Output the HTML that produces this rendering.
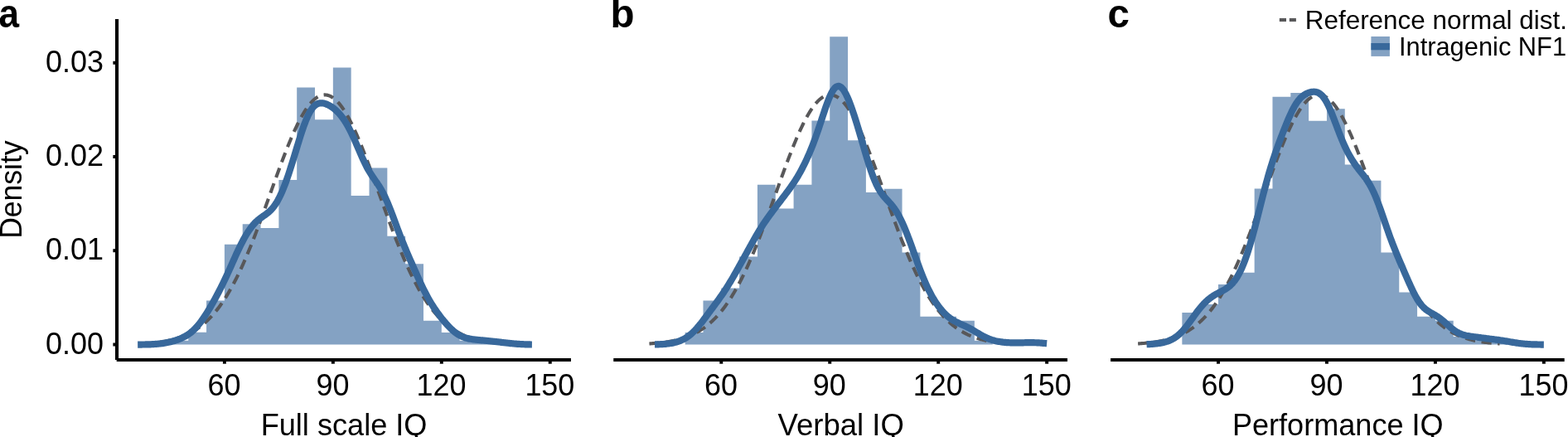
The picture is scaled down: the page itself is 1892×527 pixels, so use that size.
<!DOCTYPE html>
<html><head><meta charset="utf-8"><title>IQ distributions</title>
<style>html,body{margin:0;padding:0;background:#fff;overflow:hidden}svg{display:block}text{font-family:"Liberation Sans",sans-serif;fill:#000}</style></head><body>
<svg width="1892" height="527" viewBox="0 0 1892 527">
<rect width="1892" height="527" fill="#fff"/>
<g id="panel-a">
<path d="M205.42,415.60 L205.42,410.80 L227.25,410.80 L227.25,400.80 L249.07,400.80 L249.07,362.40 L270.90,362.40 L270.90,294.80 L292.72,294.80 L292.72,270.20 L314.55,270.20 L314.55,275.00 L336.38,275.00 L336.38,217.10 L358.20,217.10 L358.20,105.40 L380.02,105.40 L380.02,144.20 L401.85,144.20 L401.85,81.50 L423.67,81.50 L423.67,236.10 L445.50,236.10 L445.50,202.60 L467.32,202.60 L467.32,284.80 L489.15,284.80 L489.15,318.30 L510.98,318.30 L510.98,386.70 L532.80,386.70 L532.80,400.90 L554.62,400.90 L554.62,410.70 L576.45,410.70 L576.45,410.70 L598.27,410.70 L598.27,415.60 Z" fill="#84a2c3"/>
<path d="M173.56,414.44 L175.02,414.35 L176.48,414.25 L177.94,414.15 L179.40,414.04 L180.86,413.92 L182.32,413.80 L183.78,413.66 L185.24,413.52 L186.70,413.37 L188.16,413.21 L189.62,413.04 L191.08,412.86 L192.54,412.67 L194.00,412.46 L195.46,412.24 L196.92,412.01 L198.38,411.77 L199.84,411.51 L201.30,411.23 L202.76,410.94 L204.22,410.63 L205.68,410.30 L207.14,409.96 L208.60,409.59 L210.06,409.21 L211.52,408.80 L212.98,408.37 L214.44,407.92 L215.90,407.45 L217.36,406.94 L218.82,406.42 L220.28,405.86 L221.74,405.28 L223.20,404.67 L224.66,404.02 L226.12,403.35 L227.58,402.64 L229.04,401.90 L230.50,401.12 L231.96,400.31 L233.42,399.46 L234.87,398.57 L236.33,397.63 L237.79,396.66 L239.25,395.65 L240.71,394.59 L242.17,393.48 L243.63,392.33 L245.09,391.14 L246.55,389.89 L248.01,388.59 L249.47,387.24 L250.93,385.84 L252.39,384.39 L253.85,382.88 L255.31,381.31 L256.77,379.69 L258.23,378.01 L259.69,376.27 L261.15,374.47 L262.61,372.61 L264.07,370.69 L265.53,368.70 L266.99,366.66 L268.45,364.54 L269.91,362.37 L271.37,360.12 L272.83,357.82 L274.29,355.44 L275.75,353.00 L277.21,350.49 L278.67,347.92 L280.13,345.28 L281.59,342.57 L283.05,339.79 L284.51,336.95 L285.97,334.05 L287.43,331.08 L288.89,328.04 L290.35,324.94 L291.81,321.77 L293.27,318.55 L294.73,315.26 L296.19,311.91 L297.65,308.51 L299.11,305.05 L300.57,301.53 L302.03,297.96 L303.49,294.34 L304.95,290.67 L306.41,286.95 L307.87,283.18 L309.33,279.38 L310.79,275.53 L312.25,271.65 L313.71,267.73 L315.17,263.78 L316.63,259.81 L318.09,255.81 L319.55,251.79 L321.01,247.75 L322.47,243.69 L323.93,239.63 L325.39,235.56 L326.85,231.49 L328.31,227.41 L329.77,223.35 L331.23,219.29 L332.69,215.25 L334.15,211.23 L335.61,207.22 L337.07,203.25 L338.53,199.31 L339.99,195.40 L341.45,191.54 L342.90,187.72 L344.36,183.95 L345.82,180.23 L347.28,176.58 L348.74,172.99 L350.20,169.47 L351.66,166.01 L353.12,162.64 L354.58,159.35 L356.04,156.15 L357.50,153.03 L358.96,150.01 L360.42,147.09 L361.88,144.27 L363.34,141.56 L364.80,138.96 L366.26,136.48 L367.72,134.11 L369.18,131.86 L370.64,129.74 L372.10,127.74 L373.56,125.87 L375.02,124.14 L376.48,122.54 L377.94,121.08 L379.40,119.76 L380.86,118.58 L382.32,117.55 L383.78,116.65 L385.24,115.91 L386.70,115.31 L388.16,114.87 L389.62,114.57 L391.08,114.42 L392.54,114.42 L394.00,114.57 L395.46,114.87 L396.92,115.31 L398.38,115.91 L399.84,116.65 L401.30,117.55 L402.76,118.58 L404.22,119.76 L405.68,121.08 L407.14,122.54 L408.60,124.14 L410.06,125.87 L411.52,127.74 L412.98,129.74 L414.44,131.86 L415.90,134.11 L417.36,136.48 L418.82,138.96 L420.28,141.56 L421.74,144.27 L423.20,147.09 L424.66,150.01 L426.12,153.03 L427.58,156.15 L429.04,159.35 L430.50,162.64 L431.96,166.01 L433.42,169.47 L434.88,172.99 L436.34,176.58 L437.80,180.23 L439.26,183.95 L440.72,187.72 L442.18,191.54 L443.64,195.40 L445.10,199.31 L446.56,203.25 L448.02,207.22 L449.48,211.23 L450.94,215.25 L452.39,219.29 L453.85,223.35 L455.31,227.41 L456.77,231.49 L458.23,235.56 L459.69,239.63 L461.15,243.69 L462.61,247.75 L464.07,251.79 L465.53,255.81 L466.99,259.81 L468.45,263.78 L469.91,267.73 L471.37,271.65 L472.83,275.53 L474.29,279.38 L475.75,283.18 L477.21,286.95 L478.67,290.67 L480.13,294.34 L481.59,297.96 L483.05,301.53 L484.51,305.05 L485.97,308.51 L487.43,311.91 L488.89,315.26 L490.35,318.55 L491.81,321.77 L493.27,324.94 L494.73,328.04 L496.19,331.08 L497.65,334.05 L499.11,336.95 L500.57,339.79 L502.03,342.57 L503.49,345.28 L504.95,347.92 L506.41,350.49 L507.87,353.00 L509.33,355.44 L510.79,357.82 L512.25,360.12 L513.71,362.37 L515.17,364.54 L516.63,366.66 L518.09,368.70 L519.55,370.69 L521.01,372.61 L522.47,374.47 L523.93,376.27 L525.39,378.01 L526.85,379.69 L528.31,381.31 L529.77,382.88 L531.23,384.39 L532.69,385.84 L534.15,387.24 L535.61,388.59 L537.07,389.89 L538.53,391.14 L539.99,392.33 L541.45,393.48 L542.91,394.59 L544.37,395.65 L545.83,396.66 L547.29,397.63 L548.75,398.57 L550.21,399.46 L551.67,400.31 L553.13,401.12 L554.59,401.90 L556.05,402.64 L557.51,403.35 L558.97,404.02 L560.43,404.67 L561.88,405.28 L563.34,405.86 L564.80,406.42 L566.26,406.94 L567.72,407.45 L569.18,407.92 L570.64,408.37 L572.10,408.80 L573.56,409.21 L575.02,409.59 L576.48,409.96 L577.94,410.30 L579.40,410.63 L580.86,410.94 L582.32,411.23 L583.78,411.51 L585.24,411.77 L586.70,412.01 L588.16,412.24 L589.62,412.46 L591.08,412.67 L592.54,412.86 L594.00,413.04 L595.46,413.21 L596.92,413.37 L598.38,413.52 L599.84,413.66 L601.30,413.80 L602.76,413.92 L604.22,414.04 L605.68,414.15 L607.14,414.25 L608.60,414.35 L610.06,414.44" fill="none" stroke="#58585a" stroke-width="4.10" stroke-dasharray="12.2,7.54" stroke-linejoin="round"/>
<path d="M166.14,415.57 L167.33,415.56 L168.52,415.56 L169.72,415.55 L170.91,415.53 L172.10,415.52 L173.29,415.50 L174.49,415.48 L175.68,415.46 L176.87,415.44 L178.06,415.41 L179.26,415.37 L180.45,415.33 L181.64,415.29 L182.83,415.23 L184.03,415.18 L185.22,415.11 L186.41,415.03 L187.60,414.95 L188.80,414.86 L189.99,414.76 L191.18,414.64 L192.37,414.52 L193.57,414.38 L194.76,414.23 L195.95,414.07 L197.14,413.89 L198.34,413.70 L199.53,413.50 L200.72,413.28 L201.91,413.05 L203.11,412.80 L204.30,412.53 L205.49,412.25 L206.68,411.96 L207.88,411.64 L209.07,411.31 L210.26,410.96 L211.45,410.60 L212.65,410.21 L213.84,409.80 L215.03,409.37 L216.22,408.92 L217.42,408.44 L218.61,407.93 L219.80,407.39 L220.99,406.83 L222.18,406.22 L223.38,405.58 L224.57,404.90 L225.76,404.17 L226.95,403.39 L228.15,402.57 L229.34,401.69 L230.53,400.75 L231.72,399.76 L232.92,398.70 L234.11,397.58 L235.30,396.40 L236.49,395.15 L237.69,393.83 L238.88,392.45 L240.07,391.00 L241.26,389.49 L242.46,387.91 L243.65,386.28 L244.84,384.59 L246.03,382.84 L247.23,381.04 L248.42,379.20 L249.61,377.31 L250.80,375.38 L252.00,373.41 L253.19,371.41 L254.38,369.37 L255.57,367.30 L256.77,365.20 L257.96,363.07 L259.15,360.92 L260.34,358.73 L261.54,356.52 L262.73,354.27 L263.92,351.99 L265.11,349.68 L266.31,347.33 L267.50,344.95 L268.69,342.53 L269.88,340.08 L271.08,337.59 L272.27,335.06 L273.46,332.50 L274.65,329.91 L275.84,327.29 L277.04,324.65 L278.23,322.00 L279.42,319.33 L280.61,316.66 L281.81,313.99 L283.00,311.32 L284.19,308.68 L285.38,306.06 L286.58,303.48 L287.77,300.93 L288.96,298.43 L290.15,295.98 L291.35,293.60 L292.54,291.27 L293.73,289.02 L294.92,286.85 L296.12,284.75 L297.31,282.73 L298.50,280.80 L299.69,278.95 L300.89,277.19 L302.08,275.52 L303.27,273.93 L304.46,272.43 L305.66,271.02 L306.85,269.70 L308.04,268.45 L309.23,267.28 L310.43,266.19 L311.62,265.16 L312.81,264.19 L314.00,263.27 L315.20,262.39 L316.39,261.54 L317.58,260.70 L318.77,259.87 L319.97,259.03 L321.16,258.17 L322.35,257.27 L323.54,256.32 L324.73,255.30 L325.93,254.20 L327.12,253.00 L328.31,251.70 L329.50,250.28 L330.70,248.74 L331.89,247.07 L333.08,245.26 L334.27,243.30 L335.47,241.20 L336.66,238.95 L337.85,236.55 L339.04,234.01 L340.24,231.33 L341.43,228.50 L342.62,225.55 L343.81,222.46 L345.01,219.25 L346.20,215.93 L347.39,212.49 L348.58,208.96 L349.78,205.33 L350.97,201.62 L352.16,197.83 L353.35,193.99 L354.55,190.10 L355.74,186.17 L356.93,182.22 L358.12,178.28 L359.32,174.35 L360.51,170.46 L361.70,166.62 L362.89,162.85 L364.09,159.19 L365.28,155.64 L366.47,152.22 L367.66,148.97 L368.86,145.88 L370.05,142.98 L371.24,140.29 L372.43,137.80 L373.63,135.53 L374.82,133.49 L376.01,131.67 L377.20,130.07 L378.39,128.68 L379.59,127.51 L380.78,126.54 L381.97,125.76 L383.16,125.16 L384.36,124.72 L385.55,124.44 L386.74,124.29 L387.93,124.27 L389.13,124.35 L390.32,124.54 L391.51,124.81 L392.70,125.17 L393.90,125.60 L395.09,126.10 L396.28,126.67 L397.47,127.29 L398.67,127.98 L399.86,128.73 L401.05,129.54 L402.24,130.41 L403.44,131.35 L404.63,132.35 L405.82,133.43 L407.01,134.58 L408.21,135.80 L409.40,137.10 L410.59,138.49 L411.78,139.95 L412.98,141.51 L414.17,143.16 L415.36,144.89 L416.55,146.73 L417.75,148.65 L418.94,150.68 L420.13,152.80 L421.32,155.01 L422.52,157.32 L423.71,159.72 L424.90,162.20 L426.09,164.76 L427.29,167.39 L428.48,170.07 L429.67,172.80 L430.86,175.57 L432.05,178.35 L433.25,181.14 L434.44,183.91 L435.63,186.65 L436.82,189.35 L438.02,191.99 L439.21,194.56 L440.40,197.04 L441.59,199.43 L442.79,201.73 L443.98,203.92 L445.17,206.02 L446.36,208.02 L447.56,209.94 L448.75,211.78 L449.94,213.56 L451.13,215.30 L452.33,217.01 L453.52,218.72 L454.71,220.44 L455.90,222.19 L457.10,224.00 L458.29,225.89 L459.48,227.86 L460.67,229.93 L461.87,232.12 L463.06,234.42 L464.25,236.85 L465.44,239.40 L466.64,242.07 L467.83,244.85 L469.02,247.74 L470.21,250.71 L471.41,253.77 L472.60,256.89 L473.79,260.06 L474.98,263.26 L476.18,266.48 L477.37,269.70 L478.56,272.91 L479.75,276.10 L480.95,279.25 L482.14,282.37 L483.33,285.45 L484.52,288.48 L485.71,291.47 L486.91,294.41 L488.10,297.30 L489.29,300.16 L490.48,302.98 L491.68,305.78 L492.87,308.55 L494.06,311.30 L495.25,314.03 L496.45,316.75 L497.64,319.46 L498.83,322.16 L500.02,324.85 L501.22,327.54 L502.41,330.21 L503.60,332.86 L504.79,335.49 L505.99,338.10 L507.18,340.68 L508.37,343.22 L509.56,345.73 L510.76,348.18 L511.95,350.59 L513.14,352.94 L514.33,355.23 L515.53,357.46 L516.72,359.63 L517.91,361.74 L519.10,363.78 L520.30,365.77 L521.49,367.70 L522.68,369.57 L523.87,371.39 L525.07,373.16 L526.26,374.89 L527.45,376.57 L528.64,378.21 L529.84,379.82 L531.03,381.39 L532.22,382.92 L533.41,384.43 L534.61,385.90 L535.80,387.35 L536.99,388.76 L538.18,390.13 L539.37,391.47 L540.57,392.77 L541.76,394.03 L542.95,395.25 L544.14,396.42 L545.34,397.54 L546.53,398.62 L547.72,399.63 L548.91,400.60 L550.11,401.50 L551.30,402.35 L552.49,403.14 L553.68,403.87 L554.88,404.54 L556.07,405.16 L557.26,405.72 L558.45,406.24 L559.65,406.70 L560.84,407.11 L562.03,407.49 L563.22,407.82 L564.42,408.12 L565.61,408.38 L566.80,408.62 L567.99,408.83 L569.19,409.02 L570.38,409.19 L571.57,409.35 L572.76,409.49 L573.96,409.62 L575.15,409.75 L576.34,409.87 L577.53,409.98 L578.73,410.10 L579.92,410.21 L581.11,410.32 L582.30,410.43 L583.50,410.54 L584.69,410.65 L585.88,410.77 L587.07,410.88 L588.27,411.00 L589.46,411.12 L590.65,411.24 L591.84,411.36 L593.03,411.48 L594.23,411.61 L595.42,411.74 L596.61,411.87 L597.80,412.00 L599.00,412.13 L600.19,412.27 L601.38,412.40 L602.57,412.54 L603.77,412.68 L604.96,412.82 L606.15,412.96 L607.34,413.10 L608.54,413.24 L609.73,413.38 L610.92,413.52 L612.11,413.66 L613.31,413.79 L614.50,413.92 L615.69,414.05 L616.88,414.17 L618.08,414.29 L619.27,414.40 L620.46,414.51 L621.65,414.61 L622.85,414.70 L624.04,414.79 L625.23,414.88 L626.42,414.96 L627.62,415.03 L628.81,415.10 L630.00,415.16 L631.19,415.21 L632.39,415.26 L633.58,415.31 L634.77,415.35 L635.96,415.38 L637.16,415.41 L638.35,415.44 L639.54,415.46 L640.73,415.49 L641.92,415.50" fill="none" stroke="#38689b" stroke-width="8.20" stroke-linejoin="round"/>
<path d="M141.05,22.9 L141.05,433.9" fill="none" stroke="#000" stroke-width="4.1"/>
<path d="M140.7,434.03 L688.95,434.03" fill="none" stroke="#000" stroke-width="4.1"/>
<rect x="136.4" y="413.50" width="3.0" height="4.0" fill="#000"/>
<text transform="translate(125.00,426.60) scale(0.9770,1)" font-size="36.80" text-anchor="end">0.00</text>
<rect x="136.4" y="300.25" width="3.0" height="4.0" fill="#000"/>
<text transform="translate(125.00,313.35) scale(0.9770,1)" font-size="36.80" text-anchor="end">0.01</text>
<rect x="136.4" y="187.00" width="3.0" height="4.0" fill="#000"/>
<text transform="translate(125.00,200.10) scale(0.9770,1)" font-size="36.80" text-anchor="end">0.02</text>
<rect x="136.4" y="73.75" width="3.0" height="4.0" fill="#000"/>
<text transform="translate(125.00,86.85) scale(0.9770,1)" font-size="36.80" text-anchor="end">0.03</text>
<rect x="268.90" y="435" width="4.0" height="3.7" fill="#000"/>
<text transform="translate(270.50,477.30) scale(0.9770,1)" font-size="36.80" text-anchor="middle">60</text>
<rect x="399.85" y="435" width="4.0" height="3.7" fill="#000"/>
<text transform="translate(401.45,477.30) scale(0.9770,1)" font-size="36.80" text-anchor="middle">90</text>
<rect x="530.80" y="435" width="4.0" height="3.7" fill="#000"/>
<text transform="translate(532.40,477.30) scale(0.9770,1)" font-size="36.80" text-anchor="middle">120</text>
<rect x="661.75" y="435" width="4.0" height="3.7" fill="#000"/>
<text transform="translate(663.35,477.30) scale(0.9770,1)" font-size="36.80" text-anchor="middle">150</text>
<text transform="translate(415.07,524.80) scale(0.9820,1)" font-size="36.80" text-anchor="middle">Full scale IQ</text>
<text transform="translate(-1.60,33.00) scale(0.9300,1)" font-size="47.50" text-anchor="start" font-weight="bold">a</text>
</g>
<g id="panel-b">
<path d="M826.65,415.60 L826.65,401.00 L848.47,401.00 L848.47,362.60 L870.30,362.60 L870.30,347.60 L892.12,347.60 L892.12,309.50 L913.95,309.50 L913.95,222.70 L935.77,222.70 L935.77,251.50 L957.60,251.50 L957.60,222.70 L979.42,222.70 L979.42,145.50 L1001.25,145.50 L1001.25,44.30 L1023.07,44.30 L1023.07,169.30 L1044.90,169.30 L1044.90,232.00 L1066.72,232.00 L1066.72,227.70 L1088.55,227.70 L1088.55,304.50 L1110.38,304.50 L1110.38,381.70 L1132.20,381.70 L1132.20,381.70 L1154.03,381.70 L1154.03,386.70 L1175.85,386.70 L1175.85,410.70 L1197.67,410.70 L1197.67,415.60 Z" fill="#84a2c3"/>
<path d="M783.44,414.44 L784.90,414.35 L786.36,414.25 L787.82,414.15 L789.28,414.04 L790.74,413.92 L792.20,413.80 L793.66,413.66 L795.12,413.52 L796.58,413.37 L798.04,413.21 L799.50,413.04 L800.95,412.86 L802.41,412.67 L803.87,412.46 L805.33,412.24 L806.79,412.01 L808.25,411.77 L809.71,411.51 L811.17,411.23 L812.63,410.94 L814.09,410.63 L815.55,410.30 L817.01,409.96 L818.47,409.59 L819.93,409.21 L821.39,408.80 L822.85,408.37 L824.31,407.92 L825.77,407.45 L827.23,406.94 L828.69,406.42 L830.15,405.86 L831.61,405.28 L833.07,404.67 L834.53,404.02 L835.99,403.35 L837.45,402.64 L838.91,401.90 L840.37,401.12 L841.83,400.31 L843.29,399.46 L844.75,398.57 L846.21,397.63 L847.67,396.66 L849.13,395.65 L850.59,394.59 L852.05,393.48 L853.51,392.33 L854.97,391.14 L856.43,389.89 L857.89,388.59 L859.35,387.24 L860.81,385.84 L862.27,384.39 L863.73,382.88 L865.19,381.31 L866.65,379.69 L868.11,378.01 L869.57,376.27 L871.03,374.47 L872.49,372.61 L873.95,370.69 L875.41,368.70 L876.87,366.66 L878.33,364.54 L879.79,362.37 L881.25,360.12 L882.71,357.82 L884.17,355.44 L885.63,353.00 L887.09,350.49 L888.55,347.92 L890.01,345.28 L891.47,342.57 L892.93,339.79 L894.39,336.95 L895.85,334.05 L897.31,331.08 L898.77,328.04 L900.23,324.94 L901.69,321.77 L903.15,318.55 L904.61,315.26 L906.07,311.91 L907.53,308.51 L908.98,305.05 L910.44,301.53 L911.90,297.96 L913.36,294.34 L914.82,290.67 L916.28,286.95 L917.74,283.18 L919.20,279.38 L920.66,275.53 L922.12,271.65 L923.58,267.73 L925.04,263.78 L926.50,259.81 L927.96,255.81 L929.42,251.79 L930.88,247.75 L932.34,243.69 L933.80,239.63 L935.26,235.56 L936.72,231.49 L938.18,227.41 L939.64,223.35 L941.10,219.29 L942.56,215.25 L944.02,211.23 L945.48,207.22 L946.94,203.25 L948.40,199.31 L949.86,195.40 L951.32,191.54 L952.78,187.72 L954.24,183.95 L955.70,180.23 L957.16,176.58 L958.62,172.99 L960.08,169.47 L961.54,166.01 L963.00,162.64 L964.46,159.35 L965.92,156.15 L967.38,153.03 L968.84,150.01 L970.30,147.09 L971.76,144.27 L973.22,141.56 L974.68,138.96 L976.14,136.48 L977.60,134.11 L979.06,131.86 L980.52,129.74 L981.98,127.74 L983.44,125.87 L984.90,124.14 L986.36,122.54 L987.82,121.08 L989.28,119.76 L990.74,118.58 L992.20,117.55 L993.66,116.65 L995.12,115.91 L996.58,115.31 L998.04,114.87 L999.50,114.57 L1000.96,114.42 L1002.42,114.42 L1003.88,114.57 L1005.34,114.87 L1006.80,115.31 L1008.26,115.91 L1009.72,116.65 L1011.18,117.55 L1012.64,118.58 L1014.10,119.76 L1015.56,121.08 L1017.02,122.54 L1018.47,124.14 L1019.93,125.87 L1021.39,127.74 L1022.85,129.74 L1024.31,131.86 L1025.77,134.11 L1027.23,136.48 L1028.69,138.96 L1030.15,141.56 L1031.61,144.27 L1033.07,147.09 L1034.53,150.01 L1035.99,153.03 L1037.45,156.15 L1038.91,159.35 L1040.37,162.64 L1041.83,166.01 L1043.29,169.47 L1044.75,172.99 L1046.21,176.58 L1047.67,180.23 L1049.13,183.95 L1050.59,187.72 L1052.05,191.54 L1053.51,195.40 L1054.97,199.31 L1056.43,203.25 L1057.89,207.22 L1059.35,211.23 L1060.81,215.25 L1062.27,219.29 L1063.73,223.35 L1065.19,227.41 L1066.65,231.49 L1068.11,235.56 L1069.57,239.63 L1071.03,243.69 L1072.49,247.75 L1073.95,251.79 L1075.41,255.81 L1076.87,259.81 L1078.33,263.78 L1079.79,267.73 L1081.25,271.65 L1082.71,275.53 L1084.17,279.38 L1085.63,283.18 L1087.09,286.95 L1088.55,290.67 L1090.01,294.34 L1091.47,297.96 L1092.93,301.53 L1094.39,305.05 L1095.85,308.51 L1097.31,311.91 L1098.77,315.26 L1100.23,318.55 L1101.69,321.77 L1103.15,324.94 L1104.61,328.04 L1106.07,331.08 L1107.53,334.05 L1108.99,336.95 L1110.45,339.79 L1111.91,342.57 L1113.37,345.28 L1114.83,347.92 L1116.29,350.49 L1117.75,353.00 L1119.21,355.44 L1120.67,357.82 L1122.13,360.12 L1123.59,362.37 L1125.05,364.54 L1126.51,366.66 L1127.96,368.70 L1129.42,370.69 L1130.88,372.61 L1132.34,374.47 L1133.80,376.27 L1135.26,378.01 L1136.72,379.69 L1138.18,381.31 L1139.64,382.88 L1141.10,384.39 L1142.56,385.84 L1144.02,387.24 L1145.48,388.59 L1146.94,389.89 L1148.40,391.14 L1149.86,392.33 L1151.32,393.48 L1152.78,394.59 L1154.24,395.65 L1155.70,396.66 L1157.16,397.63 L1158.62,398.57 L1160.08,399.46 L1161.54,400.31 L1163.00,401.12 L1164.46,401.90 L1165.92,402.64 L1167.38,403.35 L1168.84,404.02 L1170.30,404.67 L1171.76,405.28 L1173.22,405.86 L1174.68,406.42 L1176.14,406.94 L1177.60,407.45 L1179.06,407.92 L1180.52,408.37 L1181.98,408.80 L1183.44,409.21 L1184.90,409.59 L1186.36,409.96 L1187.82,410.30 L1189.28,410.63 L1190.74,410.94 L1192.20,411.23 L1193.66,411.51 L1195.12,411.77 L1196.58,412.01 L1198.04,412.24 L1199.50,412.46 L1200.96,412.67 L1202.42,412.86 L1203.88,413.04 L1205.34,413.21 L1206.80,413.37 L1208.26,413.52 L1209.72,413.66 L1211.18,413.80 L1212.64,413.92 L1214.10,414.04 L1215.56,414.15 L1217.02,414.25 L1218.48,414.35 L1219.94,414.44" fill="none" stroke="#58585a" stroke-width="4.10" stroke-dasharray="12.2,7.54" stroke-linejoin="round"/>
<path d="M789.98,415.45 L791.17,415.42 L792.36,415.39 L793.54,415.35 L794.73,415.31 L795.91,415.26 L797.10,415.20 L798.29,415.14 L799.47,415.07 L800.66,414.98 L801.84,414.89 L803.03,414.79 L804.21,414.67 L805.40,414.54 L806.59,414.39 L807.77,414.23 L808.96,414.05 L810.14,413.84 L811.33,413.62 L812.52,413.38 L813.70,413.11 L814.89,412.82 L816.07,412.50 L817.26,412.14 L818.45,411.76 L819.63,411.34 L820.82,410.89 L822.00,410.39 L823.19,409.85 L824.37,409.27 L825.56,408.65 L826.75,407.97 L827.93,407.25 L829.12,406.47 L830.30,405.64 L831.49,404.75 L832.68,403.81 L833.86,402.81 L835.05,401.76 L836.23,400.64 L837.42,399.48 L838.61,398.26 L839.79,396.98 L840.98,395.66 L842.16,394.29 L843.35,392.88 L844.53,391.43 L845.72,389.95 L846.91,388.43 L848.09,386.90 L849.28,385.34 L850.46,383.76 L851.65,382.17 L852.84,380.57 L854.02,378.97 L855.21,377.37 L856.39,375.77 L857.58,374.16 L858.77,372.56 L859.95,370.96 L861.14,369.36 L862.32,367.76 L863.51,366.16 L864.69,364.55 L865.88,362.94 L867.07,361.30 L868.25,359.66 L869.44,357.99 L870.62,356.30 L871.81,354.59 L873.00,352.84 L874.18,351.07 L875.37,349.26 L876.55,347.42 L877.74,345.55 L878.92,343.65 L880.11,341.71 L881.30,339.75 L882.48,337.75 L883.67,335.74 L884.85,333.69 L886.04,331.63 L887.23,329.56 L888.41,327.46 L889.60,325.36 L890.78,323.25 L891.97,321.12 L893.16,318.99 L894.34,316.86 L895.53,314.72 L896.71,312.57 L897.90,310.42 L899.08,308.27 L900.27,306.12 L901.46,303.97 L902.64,301.82 L903.83,299.67 L905.01,297.53 L906.20,295.39 L907.39,293.26 L908.57,291.15 L909.76,289.05 L910.94,286.97 L912.13,284.91 L913.32,282.87 L914.50,280.87 L915.69,278.90 L916.87,276.96 L918.06,275.06 L919.24,273.19 L920.43,271.35 L921.62,269.56 L922.80,267.80 L923.99,266.07 L925.17,264.37 L926.36,262.69 L927.55,261.05 L928.73,259.42 L929.92,257.81 L931.10,256.22 L932.29,254.64 L933.48,253.06 L934.66,251.50 L935.85,249.94 L937.03,248.38 L938.22,246.82 L939.40,245.27 L940.59,243.72 L941.78,242.16 L942.96,240.61 L944.15,239.05 L945.33,237.50 L946.52,235.93 L947.71,234.37 L948.89,232.79 L950.08,231.20 L951.26,229.60 L952.45,227.98 L953.64,226.33 L954.82,224.66 L956.01,222.96 L957.19,221.22 L958.38,219.44 L959.56,217.61 L960.75,215.73 L961.94,213.80 L963.12,211.81 L964.31,209.77 L965.49,207.66 L966.68,205.50 L967.87,203.27 L969.05,200.97 L970.24,198.61 L971.42,196.18 L972.61,193.69 L973.80,191.12 L974.98,188.49 L976.17,185.78 L977.35,182.99 L978.54,180.13 L979.72,177.19 L980.91,174.17 L982.10,171.06 L983.28,167.87 L984.47,164.60 L985.65,161.25 L986.84,157.83 L988.03,154.35 L989.21,150.81 L990.40,147.23 L991.58,143.63 L992.77,140.03 L993.96,136.44 L995.14,132.91 L996.33,129.44 L997.51,126.08 L998.70,122.84 L999.88,119.78 L1001.07,116.91 L1002.26,114.26 L1003.44,111.86 L1004.63,109.75 L1005.81,107.93 L1007.00,106.43 L1008.19,105.27 L1009.37,104.45 L1010.56,103.99 L1011.74,103.87 L1012.93,104.10 L1014.12,104.67 L1015.30,105.58 L1016.49,106.79 L1017.67,108.31 L1018.86,110.11 L1020.04,112.17 L1021.23,114.47 L1022.42,116.99 L1023.60,119.71 L1024.79,122.62 L1025.97,125.68 L1027.16,128.90 L1028.35,132.25 L1029.53,135.72 L1030.72,139.30 L1031.90,142.98 L1033.09,146.75 L1034.28,150.59 L1035.46,154.50 L1036.65,158.47 L1037.83,162.49 L1039.02,166.54 L1040.20,170.61 L1041.39,174.69 L1042.58,178.77 L1043.76,182.82 L1044.95,186.83 L1046.13,190.78 L1047.32,194.66 L1048.51,198.44 L1049.69,202.10 L1050.88,205.63 L1052.06,209.02 L1053.25,212.25 L1054.44,215.31 L1055.62,218.20 L1056.81,220.91 L1057.99,223.43 L1059.18,225.77 L1060.36,227.94 L1061.55,229.95 L1062.74,231.80 L1063.92,233.51 L1065.11,235.10 L1066.29,236.58 L1067.48,237.98 L1068.67,239.32 L1069.85,240.61 L1071.04,241.88 L1072.22,243.15 L1073.41,244.44 L1074.60,245.77 L1075.78,247.15 L1076.97,248.60 L1078.15,250.13 L1079.34,251.76 L1080.52,253.49 L1081.71,255.32 L1082.90,257.27 L1084.08,259.34 L1085.27,261.53 L1086.45,263.84 L1087.64,266.26 L1088.83,268.80 L1090.01,271.45 L1091.20,274.20 L1092.38,277.04 L1093.57,279.98 L1094.76,283.00 L1095.94,286.09 L1097.13,289.25 L1098.31,292.46 L1099.50,295.71 L1100.68,298.99 L1101.87,302.30 L1103.06,305.61 L1104.24,308.93 L1105.43,312.23 L1106.61,315.51 L1107.80,318.76 L1108.99,321.96 L1110.17,325.12 L1111.36,328.21 L1112.54,331.24 L1113.73,334.19 L1114.92,337.07 L1116.10,339.86 L1117.29,342.56 L1118.47,345.18 L1119.66,347.70 L1120.84,350.13 L1122.03,352.47 L1123.22,354.72 L1124.40,356.88 L1125.59,358.96 L1126.77,360.95 L1127.96,362.86 L1129.15,364.69 L1130.33,366.44 L1131.52,368.12 L1132.70,369.73 L1133.89,371.28 L1135.07,372.75 L1136.26,374.16 L1137.45,375.51 L1138.63,376.79 L1139.82,378.01 L1141.00,379.17 L1142.19,380.27 L1143.38,381.32 L1144.56,382.30 L1145.75,383.24 L1146.93,384.11 L1148.12,384.94 L1149.31,385.71 L1150.49,386.44 L1151.68,387.13 L1152.86,387.78 L1154.05,388.40 L1155.23,388.99 L1156.42,389.56 L1157.61,390.11 L1158.79,390.64 L1159.98,391.17 L1161.16,391.70 L1162.35,392.23 L1163.54,392.76 L1164.72,393.31 L1165.91,393.88 L1167.09,394.45 L1168.28,395.05 L1169.47,395.67 L1170.65,396.30 L1171.84,396.96 L1173.02,397.63 L1174.21,398.32 L1175.39,399.02 L1176.58,399.73 L1177.77,400.44 L1178.95,401.16 L1180.14,401.87 L1181.32,402.58 L1182.51,403.28 L1183.70,403.96 L1184.88,404.63 L1186.07,405.28 L1187.25,405.90 L1188.44,406.50 L1189.63,407.07 L1190.81,407.61 L1192.00,408.12 L1193.18,408.60 L1194.37,409.05 L1195.55,409.47 L1196.74,409.86 L1197.93,410.22 L1199.11,410.56 L1200.30,410.86 L1201.48,411.15 L1202.67,411.41 L1203.86,411.65 L1205.04,411.87 L1206.23,412.07 L1207.41,412.25 L1208.60,412.42 L1209.79,412.57 L1210.97,412.71 L1212.16,412.83 L1213.34,412.95 L1214.53,413.05 L1215.71,413.13 L1216.90,413.21 L1218.09,413.27 L1219.27,413.33 L1220.46,413.37 L1221.64,413.40 L1222.83,413.43 L1224.02,413.44 L1225.20,413.45 L1226.39,413.44 L1227.57,413.43 L1228.76,413.42 L1229.95,413.40 L1231.13,413.37 L1232.32,413.34 L1233.50,413.31 L1234.69,413.28 L1235.87,413.24 L1237.06,413.21 L1238.25,413.19 L1239.43,413.16 L1240.62,413.15 L1241.80,413.13 L1242.99,413.13 L1244.18,413.13 L1245.36,413.14 L1246.55,413.16 L1247.73,413.19 L1248.92,413.23 L1250.11,413.27 L1251.29,413.33 L1252.48,413.39 L1253.66,413.46 L1254.85,413.53 L1256.03,413.62 L1257.22,413.70 L1258.41,413.80 L1259.59,413.89 L1260.78,413.99 L1261.96,414.09 L1263.15,414.19" fill="none" stroke="#38689b" stroke-width="8.20" stroke-linejoin="round"/>
<path d="M740.25,434.03 L1288.00,434.03" fill="none" stroke="#000" stroke-width="4.1"/>
<rect x="868.30" y="435" width="4.0" height="3.7" fill="#000"/>
<text transform="translate(869.90,477.30) scale(0.9770,1)" font-size="36.80" text-anchor="middle">60</text>
<rect x="999.25" y="435" width="4.0" height="3.7" fill="#000"/>
<text transform="translate(1000.85,477.30) scale(0.9770,1)" font-size="36.80" text-anchor="middle">90</text>
<rect x="1130.20" y="435" width="4.0" height="3.7" fill="#000"/>
<text transform="translate(1131.80,477.30) scale(0.9770,1)" font-size="36.80" text-anchor="middle">120</text>
<rect x="1261.15" y="435" width="4.0" height="3.7" fill="#000"/>
<text transform="translate(1262.75,477.30) scale(0.9770,1)" font-size="36.80" text-anchor="middle">150</text>
<text transform="translate(1014.73,524.80) scale(0.9930,1)" font-size="36.80" text-anchor="middle">Verbal IQ</text>
<text transform="translate(736.40,33.00) scale(1.0000,1)" font-size="47.50" text-anchor="start" font-weight="bold">b</text>
</g>
<g id="panel-c">
<path d="M1426.35,415.60 L1426.35,376.90 L1448.17,376.90 L1448.17,367.00 L1470.00,367.00 L1470.00,343.10 L1491.83,343.10 L1491.83,328.80 L1513.65,328.80 L1513.65,227.60 L1535.47,227.60 L1535.47,116.80 L1557.30,116.80 L1557.30,112.00 L1579.12,112.00 L1579.12,145.70 L1600.95,145.70 L1600.95,131.30 L1622.78,131.30 L1622.78,198.50 L1644.60,198.50 L1644.60,217.80 L1666.42,217.80 L1666.42,304.50 L1688.25,304.50 L1688.25,352.60 L1710.08,352.60 L1710.08,381.70 L1731.90,381.70 L1731.90,386.70 L1753.72,386.70 L1753.72,405.90 L1775.55,405.90 L1775.55,410.70 L1797.38,410.70 L1797.38,410.70 L1819.20,410.70 L1819.20,415.60 Z" fill="#84a2c3"/>
<path d="M1373.10,414.44 L1374.56,414.35 L1376.02,414.25 L1377.48,414.15 L1378.94,414.04 L1380.40,413.92 L1381.86,413.80 L1383.32,413.66 L1384.78,413.52 L1386.24,413.37 L1387.70,413.21 L1389.16,413.04 L1390.62,412.86 L1392.08,412.67 L1393.54,412.46 L1394.99,412.24 L1396.45,412.01 L1397.91,411.77 L1399.37,411.51 L1400.83,411.23 L1402.29,410.94 L1403.75,410.63 L1405.21,410.30 L1406.67,409.96 L1408.13,409.59 L1409.59,409.21 L1411.05,408.80 L1412.51,408.37 L1413.97,407.92 L1415.43,407.45 L1416.89,406.94 L1418.35,406.42 L1419.81,405.86 L1421.27,405.28 L1422.73,404.67 L1424.19,404.02 L1425.65,403.35 L1427.11,402.64 L1428.57,401.90 L1430.03,401.12 L1431.49,400.31 L1432.95,399.46 L1434.41,398.57 L1435.87,397.63 L1437.33,396.66 L1438.79,395.65 L1440.25,394.59 L1441.71,393.48 L1443.17,392.33 L1444.63,391.14 L1446.09,389.89 L1447.55,388.59 L1449.01,387.24 L1450.47,385.84 L1451.93,384.39 L1453.39,382.88 L1454.85,381.31 L1456.31,379.69 L1457.77,378.01 L1459.23,376.27 L1460.69,374.47 L1462.15,372.61 L1463.61,370.69 L1465.07,368.70 L1466.53,366.66 L1467.99,364.54 L1469.45,362.37 L1470.91,360.12 L1472.37,357.82 L1473.83,355.44 L1475.29,353.00 L1476.75,350.49 L1478.21,347.92 L1479.67,345.28 L1481.13,342.57 L1482.59,339.79 L1484.05,336.95 L1485.51,334.05 L1486.97,331.08 L1488.43,328.04 L1489.89,324.94 L1491.35,321.77 L1492.81,318.55 L1494.27,315.26 L1495.73,311.91 L1497.19,308.51 L1498.65,305.05 L1500.11,301.53 L1501.57,297.96 L1503.03,294.34 L1504.48,290.67 L1505.94,286.95 L1507.40,283.18 L1508.86,279.38 L1510.32,275.53 L1511.78,271.65 L1513.24,267.73 L1514.70,263.78 L1516.16,259.81 L1517.62,255.81 L1519.08,251.79 L1520.54,247.75 L1522.00,243.69 L1523.46,239.63 L1524.92,235.56 L1526.38,231.49 L1527.84,227.41 L1529.30,223.35 L1530.76,219.29 L1532.22,215.25 L1533.68,211.23 L1535.14,207.22 L1536.60,203.25 L1538.06,199.31 L1539.52,195.40 L1540.98,191.54 L1542.44,187.72 L1543.90,183.95 L1545.36,180.23 L1546.82,176.58 L1548.28,172.99 L1549.74,169.47 L1551.20,166.01 L1552.66,162.64 L1554.12,159.35 L1555.58,156.15 L1557.04,153.03 L1558.50,150.01 L1559.96,147.09 L1561.42,144.27 L1562.88,141.56 L1564.34,138.96 L1565.80,136.48 L1567.26,134.11 L1568.72,131.86 L1570.18,129.74 L1571.64,127.74 L1573.10,125.87 L1574.56,124.14 L1576.02,122.54 L1577.48,121.08 L1578.94,119.76 L1580.40,118.58 L1581.86,117.55 L1583.32,116.65 L1584.78,115.91 L1586.24,115.31 L1587.70,114.87 L1589.16,114.57 L1590.62,114.42 L1592.08,114.42 L1593.54,114.57 L1595.00,114.87 L1596.46,115.31 L1597.92,115.91 L1599.38,116.65 L1600.84,117.55 L1602.30,118.58 L1603.76,119.76 L1605.22,121.08 L1606.68,122.54 L1608.14,124.14 L1609.60,125.87 L1611.06,127.74 L1612.52,129.74 L1613.97,131.86 L1615.43,134.11 L1616.89,136.48 L1618.35,138.96 L1619.81,141.56 L1621.27,144.27 L1622.73,147.09 L1624.19,150.01 L1625.65,153.03 L1627.11,156.15 L1628.57,159.35 L1630.03,162.64 L1631.49,166.01 L1632.95,169.47 L1634.41,172.99 L1635.87,176.58 L1637.33,180.23 L1638.79,183.95 L1640.25,187.72 L1641.71,191.54 L1643.17,195.40 L1644.63,199.31 L1646.09,203.25 L1647.55,207.22 L1649.01,211.23 L1650.47,215.25 L1651.93,219.29 L1653.39,223.35 L1654.85,227.41 L1656.31,231.49 L1657.77,235.56 L1659.23,239.63 L1660.69,243.69 L1662.15,247.75 L1663.61,251.79 L1665.07,255.81 L1666.53,259.81 L1667.99,263.78 L1669.45,267.73 L1670.91,271.65 L1672.37,275.53 L1673.83,279.38 L1675.29,283.18 L1676.75,286.95 L1678.21,290.67 L1679.67,294.34 L1681.13,297.96 L1682.59,301.53 L1684.05,305.05 L1685.51,308.51 L1686.97,311.91 L1688.43,315.26 L1689.89,318.55 L1691.35,321.77 L1692.81,324.94 L1694.27,328.04 L1695.73,331.08 L1697.19,334.05 L1698.65,336.95 L1700.11,339.79 L1701.57,342.57 L1703.03,345.28 L1704.49,347.92 L1705.95,350.49 L1707.41,353.00 L1708.87,355.44 L1710.33,357.82 L1711.79,360.12 L1713.25,362.37 L1714.71,364.54 L1716.17,366.66 L1717.63,368.70 L1719.09,370.69 L1720.55,372.61 L1722.01,374.47 L1723.46,376.27 L1724.92,378.01 L1726.38,379.69 L1727.84,381.31 L1729.30,382.88 L1730.76,384.39 L1732.22,385.84 L1733.68,387.24 L1735.14,388.59 L1736.60,389.89 L1738.06,391.14 L1739.52,392.33 L1740.98,393.48 L1742.44,394.59 L1743.90,395.65 L1745.36,396.66 L1746.82,397.63 L1748.28,398.57 L1749.74,399.46 L1751.20,400.31 L1752.66,401.12 L1754.12,401.90 L1755.58,402.64 L1757.04,403.35 L1758.50,404.02 L1759.96,404.67 L1761.42,405.28 L1762.88,405.86 L1764.34,406.42 L1765.80,406.94 L1767.26,407.45 L1768.72,407.92 L1770.18,408.37 L1771.64,408.80 L1773.10,409.21 L1774.56,409.59 L1776.02,409.96 L1777.48,410.30 L1778.94,410.63 L1780.40,410.94 L1781.86,411.23 L1783.32,411.51 L1784.78,411.77 L1786.24,412.01 L1787.70,412.24 L1789.16,412.46 L1790.62,412.67 L1792.08,412.86 L1793.54,413.04 L1795.00,413.21 L1796.46,413.37 L1797.92,413.52 L1799.38,413.66 L1800.84,413.80 L1802.30,413.92 L1803.76,414.04 L1805.22,414.15 L1806.68,414.25 L1808.14,414.35 L1809.60,414.44" fill="none" stroke="#58585a" stroke-width="4.10" stroke-dasharray="12.2,7.54" stroke-linejoin="round"/>
<path d="M1383.57,415.24 L1384.77,415.19 L1385.98,415.13 L1387.18,415.06 L1388.38,414.98 L1389.58,414.90 L1390.78,414.81 L1391.98,414.70 L1393.18,414.59 L1394.38,414.47 L1395.58,414.33 L1396.79,414.18 L1397.99,414.01 L1399.19,413.83 L1400.39,413.63 L1401.59,413.41 L1402.79,413.17 L1403.99,412.90 L1405.19,412.60 L1406.40,412.28 L1407.60,411.93 L1408.80,411.53 L1410.00,411.10 L1411.20,410.63 L1412.40,410.11 L1413.60,409.55 L1414.80,408.93 L1416.01,408.25 L1417.21,407.51 L1418.41,406.71 L1419.61,405.85 L1420.81,404.92 L1422.01,403.92 L1423.21,402.85 L1424.41,401.71 L1425.61,400.51 L1426.82,399.23 L1428.02,397.89 L1429.22,396.50 L1430.42,395.04 L1431.62,393.53 L1432.82,391.98 L1434.02,390.39 L1435.22,388.76 L1436.43,387.12 L1437.63,385.45 L1438.83,383.78 L1440.03,382.11 L1441.23,380.44 L1442.43,378.79 L1443.63,377.16 L1444.83,375.57 L1446.04,374.01 L1447.24,372.49 L1448.44,371.02 L1449.64,369.60 L1450.84,368.23 L1452.04,366.91 L1453.24,365.65 L1454.44,364.45 L1455.64,363.31 L1456.85,362.22 L1458.05,361.19 L1459.25,360.21 L1460.45,359.29 L1461.65,358.41 L1462.85,357.58 L1464.05,356.79 L1465.25,356.03 L1466.46,355.32 L1467.66,354.63 L1468.86,353.96 L1470.06,353.32 L1471.26,352.68 L1472.46,352.06 L1473.66,351.43 L1474.86,350.79 L1476.07,350.14 L1477.27,349.46 L1478.47,348.74 L1479.67,347.98 L1480.87,347.16 L1482.07,346.28 L1483.27,345.33 L1484.47,344.29 L1485.67,343.15 L1486.88,341.91 L1488.08,340.56 L1489.28,339.08 L1490.48,337.47 L1491.68,335.73 L1492.88,333.84 L1494.08,331.79 L1495.28,329.60 L1496.49,327.24 L1497.69,324.72 L1498.89,322.03 L1500.09,319.18 L1501.29,316.16 L1502.49,312.97 L1503.69,309.62 L1504.89,306.10 L1506.09,302.43 L1507.30,298.60 L1508.50,294.63 L1509.70,290.52 L1510.90,286.28 L1512.10,281.92 L1513.30,277.45 L1514.50,272.90 L1515.70,268.26 L1516.91,263.57 L1518.11,258.82 L1519.31,254.06 L1520.51,249.28 L1521.71,244.51 L1522.91,239.76 L1524.11,235.06 L1525.31,230.41 L1526.52,225.84 L1527.72,221.35 L1528.92,216.96 L1530.12,212.67 L1531.32,208.48 L1532.52,204.41 L1533.72,200.45 L1534.92,196.60 L1536.12,192.85 L1537.33,189.21 L1538.53,185.65 L1539.73,182.18 L1540.93,178.79 L1542.13,175.46 L1543.33,172.18 L1544.53,168.96 L1545.73,165.78 L1546.94,162.64 L1548.14,159.54 L1549.34,156.47 L1550.54,153.45 L1551.74,150.48 L1552.94,147.55 L1554.14,144.69 L1555.34,141.90 L1556.55,139.20 L1557.75,136.59 L1558.95,134.09 L1560.15,131.71 L1561.35,129.46 L1562.55,127.34 L1563.75,125.37 L1564.95,123.55 L1566.15,121.87 L1567.36,120.35 L1568.56,118.96 L1569.76,117.72 L1570.96,116.61 L1572.16,115.62 L1573.36,114.75 L1574.56,113.98 L1575.76,113.30 L1576.97,112.71 L1578.17,112.20 L1579.37,111.77 L1580.57,111.40 L1581.77,111.11 L1582.97,110.89 L1584.17,110.75 L1585.37,110.71 L1586.58,110.76 L1587.78,110.92 L1588.98,111.21 L1590.18,111.63 L1591.38,112.22 L1592.58,112.97 L1593.78,113.90 L1594.98,115.02 L1596.18,116.35 L1597.39,117.87 L1598.59,119.61 L1599.79,121.55 L1600.99,123.69 L1602.19,126.01 L1603.39,128.51 L1604.59,131.18 L1605.79,133.98 L1607.00,136.91 L1608.20,139.93 L1609.40,143.03 L1610.60,146.18 L1611.80,149.36 L1613.00,152.55 L1614.20,155.72 L1615.40,158.86 L1616.60,161.95 L1617.81,164.97 L1619.01,167.92 L1620.21,170.78 L1621.41,173.55 L1622.61,176.22 L1623.81,178.79 L1625.01,181.25 L1626.21,183.62 L1627.42,185.88 L1628.62,188.05 L1629.82,190.13 L1631.02,192.12 L1632.22,194.03 L1633.42,195.86 L1634.62,197.63 L1635.82,199.33 L1637.03,200.97 L1638.23,202.57 L1639.43,204.14 L1640.63,205.67 L1641.83,207.20 L1643.03,208.72 L1644.23,210.25 L1645.43,211.80 L1646.63,213.40 L1647.84,215.05 L1649.04,216.76 L1650.24,218.56 L1651.44,220.46 L1652.64,222.46 L1653.84,224.58 L1655.04,226.83 L1656.24,229.22 L1657.45,231.74 L1658.65,234.40 L1659.85,237.20 L1661.05,240.13 L1662.25,243.18 L1663.45,246.34 L1664.65,249.60 L1665.85,252.95 L1667.06,256.36 L1668.26,259.82 L1669.46,263.31 L1670.66,266.82 L1671.86,270.32 L1673.06,273.80 L1674.26,277.26 L1675.46,280.66 L1676.66,284.02 L1677.87,287.31 L1679.07,290.54 L1680.27,293.71 L1681.47,296.81 L1682.67,299.85 L1683.87,302.83 L1685.07,305.76 L1686.27,308.65 L1687.48,311.51 L1688.68,314.34 L1689.88,317.15 L1691.08,319.95 L1692.28,322.74 L1693.48,325.52 L1694.68,328.30 L1695.88,331.07 L1697.09,333.83 L1698.29,336.58 L1699.49,339.30 L1700.69,342.00 L1701.89,344.65 L1703.09,347.24 L1704.29,349.78 L1705.49,352.23 L1706.69,354.59 L1707.90,356.86 L1709.10,359.01 L1710.30,361.04 L1711.50,362.95 L1712.70,364.72 L1713.90,366.37 L1715.10,367.88 L1716.30,369.27 L1717.51,370.53 L1718.71,371.68 L1719.91,372.72 L1721.11,373.66 L1722.31,374.53 L1723.51,375.32 L1724.71,376.07 L1725.91,376.77 L1727.11,377.45 L1728.32,378.11 L1729.52,378.78 L1730.72,379.46 L1731.92,380.16 L1733.12,380.90 L1734.32,381.67 L1735.52,382.48 L1736.72,383.33 L1737.93,384.23 L1739.13,385.17 L1740.33,386.15 L1741.53,387.16 L1742.73,388.20 L1743.93,389.25 L1745.13,390.33 L1746.33,391.40 L1747.54,392.47 L1748.74,393.53 L1749.94,394.56 L1751.14,395.56 L1752.34,396.53 L1753.54,397.45 L1754.74,398.33 L1755.94,399.15 L1757.14,399.92 L1758.35,400.63 L1759.55,401.28 L1760.75,401.88 L1761.95,402.42 L1763.15,402.90 L1764.35,403.34 L1765.55,403.73 L1766.75,404.07 L1767.96,404.38 L1769.16,404.66 L1770.36,404.91 L1771.56,405.13 L1772.76,405.33 L1773.96,405.52 L1775.16,405.70 L1776.36,405.87 L1777.57,406.03 L1778.77,406.19 L1779.97,406.34 L1781.17,406.50 L1782.37,406.66 L1783.57,406.81 L1784.77,406.97 L1785.97,407.13 L1787.17,407.29 L1788.38,407.45 L1789.58,407.61 L1790.78,407.77 L1791.98,407.93 L1793.18,408.09 L1794.38,408.24 L1795.58,408.40 L1796.78,408.55 L1797.99,408.70 L1799.19,408.85 L1800.39,409.00 L1801.59,409.15 L1802.79,409.30 L1803.99,409.45 L1805.19,409.61 L1806.39,409.76 L1807.60,409.93 L1808.80,410.09 L1810.00,410.26 L1811.20,410.44 L1812.40,410.62 L1813.60,410.81 L1814.80,411.00 L1816.00,411.19 L1817.20,411.39 L1818.41,411.60 L1819.61,411.80 L1820.81,412.01 L1822.01,412.22 L1823.21,412.43 L1824.41,412.64 L1825.61,412.84 L1826.81,413.04 L1828.02,413.23 L1829.22,413.42 L1830.42,413.61 L1831.62,413.78 L1832.82,413.95 L1834.02,414.11 L1835.22,414.25 L1836.42,414.39 L1837.62,414.52 L1838.83,414.64 L1840.03,414.75 L1841.23,414.85 L1842.43,414.95 L1843.63,415.03 L1844.83,415.11 L1846.03,415.17 L1847.23,415.23 L1848.44,415.28 L1849.64,415.33 L1850.84,415.37 L1852.04,415.41 L1853.24,415.44 L1854.44,415.46 L1855.64,415.49 L1856.84,415.51 L1858.05,415.52 L1859.25,415.54 L1860.45,415.55 L1861.65,415.56 L1862.85,415.57" fill="none" stroke="#38689b" stroke-width="8.20" stroke-linejoin="round"/>
<path d="M1340.05,434.03 L1887.70,434.03" fill="none" stroke="#000" stroke-width="4.1"/>
<rect x="1468.00" y="435" width="4.0" height="3.7" fill="#000"/>
<text transform="translate(1469.60,477.30) scale(0.9770,1)" font-size="36.80" text-anchor="middle">60</text>
<rect x="1598.95" y="435" width="4.0" height="3.7" fill="#000"/>
<text transform="translate(1600.55,477.30) scale(0.9770,1)" font-size="36.80" text-anchor="middle">90</text>
<rect x="1729.90" y="435" width="4.0" height="3.7" fill="#000"/>
<text transform="translate(1731.50,477.30) scale(0.9770,1)" font-size="36.80" text-anchor="middle">120</text>
<rect x="1860.85" y="435" width="4.0" height="3.7" fill="#000"/>
<text transform="translate(1862.45,477.30) scale(0.9770,1)" font-size="36.80" text-anchor="middle">150</text>
<text transform="translate(1614.28,524.80) scale(0.9810,1)" font-size="36.80" text-anchor="middle">Performance IQ</text>
<text transform="translate(1336.60,33.00) scale(1.0000,1)" font-size="47.50" text-anchor="start" font-weight="bold">c</text>
</g>
<text transform="translate(25.8,228.6) rotate(-90) scale(0.9650,1)" font-size="36.80" text-anchor="middle">Density</text>
<g id="legend">
<rect x="1543.8" y="21.95" width="8.2" height="4.1" fill="#58585a"/><rect x="1555.8" y="21.95" width="8.1" height="4.1" fill="#58585a"/>
<text transform="translate(1891.00,35.30) scale(0.9826,1)" font-size="32.00" text-anchor="end">Reference normal dist.</text>
<rect x="1654.4" y="44.0" width="22.5" height="23.9" fill="#84a2c3"/>
<rect x="1654.4" y="52.0" width="22.5" height="8.3" fill="#38689b"/>
<text transform="translate(1890.10,66.90) scale(0.9640,1)" font-size="32.00" text-anchor="end">Intragenic NF1</text>
</g>
</svg></body></html>
